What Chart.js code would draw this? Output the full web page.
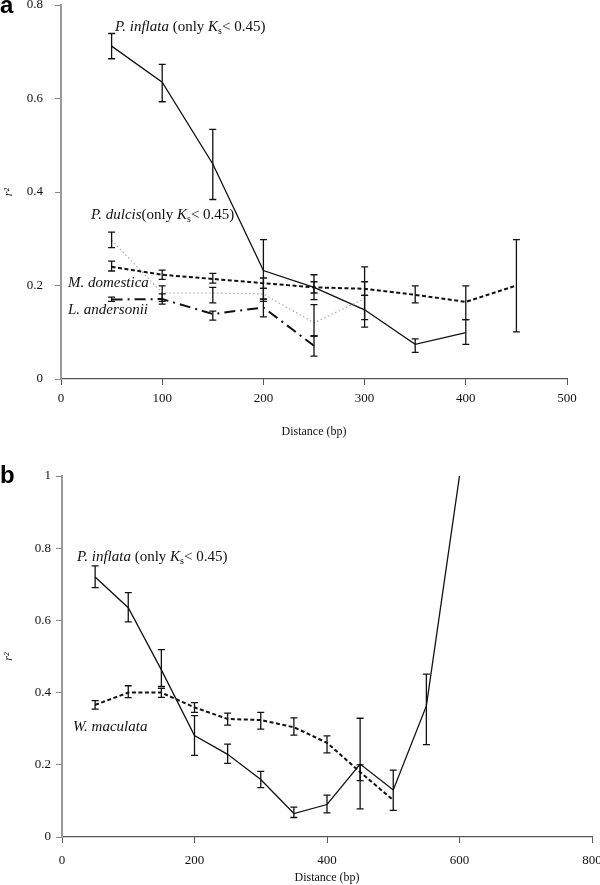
<!DOCTYPE html>
<html>
<head>
<meta charset="utf-8">
<script src="https://cdn.jsdelivr.net/npm/chart.js@4.4.1/dist/chart.umd.min.js"></script>
<style>
  html, body { margin: 0; padding: 0; overflow: hidden; background: #fff; width: 600px; height: 885px; }
  canvas { position: absolute; left: 0; }
  #chartA { top: -20px; }
  #chartB { top: 440px; }
  .note { position: absolute; font-family: "Liberation Serif", serif; font-size: 15px; line-height: 15px; color: #111; white-space: nowrap; }
  .note sub { font-size: 10px; vertical-align: -3px; line-height: 0; }
  .panel { position: absolute; left: 0; font-family: "Liberation Sans", sans-serif; font-weight: bold; font-size: 24px; line-height: 24px; color: #000; }
</style>
</head>
<body>
<canvas id="chartA" width="600" height="465"></canvas>
<canvas id="chartB" width="620" height="445"></canvas>

<div class="panel" style="top:-7px">a</div>
<div class="panel" style="top:463px">b</div>

<div class="note" style="left:115px;top:19px"><i>P. inflata</i> (only <i>K</i><sub>s</sub>&lt; 0.45)</div>
<div class="note" style="left:91px;top:207px"><i>P. dulcis</i>(only <i>K</i><sub>s</sub>&lt; 0.45)</div>
<div class="note" style="left:68px;top:275px"><i>M. domestica</i></div>
<div class="note" style="left:68px;top:302px"><i>L. andersonii</i></div>
<div class="note" style="left:77px;top:549px"><i>P. inflata</i> (only <i>K</i><sub>s</sub>&lt; 0.45)</div>
<div class="note" style="left:73px;top:719px"><i>W. maculata</i></div>

<script>
// panel a
const distA = [50, 100, 150, 200, 250, 300, 350, 400, 450];
const inflataA = [0.712, 0.635, 0.46, 0.232, 0.196, 0.148, 0.074, 0.099];
const inflataALo = [0.685, 0.593, 0.384, 0.166, 0.17, 0.111, 0.057, 0.074];
const inflataAHi = [0.739, 0.673, 0.534, 0.298, 0.223, 0.179, 0.086, 0.127];
const dulcisA = [0.297, 0.184, 0.184, 0.182, 0.12, 0.172];
const dulcisALo = [0.281, 0.166, 0.163, 0.171, 0.092, 0.127];
const dulcisAHi = [0.314, 0.199, 0.196, 0.194, 0.159, 0.24];
const domesticaA = [0.24, 0.223, 0.214, 0.205, 0.196, 0.193, 0.18, 0.165, 0.2];
const domesticaALo = [0.231, 0.213, 0.205, 0.194, 0.184, 0.179, 0.163, 0.127, 0.101];
const domesticaAHi = [0.252, 0.233, 0.226, 0.216, 0.208, 0.208, 0.199, 0.199, 0.298];
const andersoniiA = [0.17, 0.171, 0.139, 0.153, 0.071];
const andersoniiALo = [0.166, 0.16, 0.126, 0.133, 0.049];
const andersoniiAHi = [0.175, 0.182, 0.145, 0.171, 0.092];
const ticksXA = [0, 500, 100];   // min, max, step
const ticksYA = [0, 0.8, 0.2];

// panel b
const distB = [50, 100, 150, 200, 250, 300, 350, 400, 450, 500, 550, 600];
const inflataB = [0.72, 0.635, 0.463, 0.281, 0.229, 0.159, 0.065, 0.09, 0.202, 0.13, 0.363, 1.0];
const inflataBLo = [0.691, 0.596, 0.417, 0.226, 0.204, 0.137, 0.054, 0.067, 0.078, 0.074, 0.256, null];
const inflataBHi = [0.751, 0.677, 0.519, 0.336, 0.257, 0.182, 0.083, 0.116, 0.329, 0.185, 0.451, null];
const maculataB = [0.366, 0.4, 0.4, 0.359, 0.327, 0.324, 0.304, 0.261, 0.18, 0.102];
const maculataBLo = [0.354, 0.386, 0.387, 0.345, 0.31, 0.299, 0.282, 0.233, 0.156, null];
const maculataBHi = [0.378, 0.419, 0.412, 0.372, 0.343, 0.345, 0.33, 0.28, 0.2, null];
const ticksXB = [0, 800, 200];
const ticksYB = [0, 1, 0.2];

const pts = (xs, ys) => ys.map((y, i) => ({x: xs[i], y: y}));

// draws the vertical error bars with caps, using the chart scales
const errorBars = {
  id: 'errorBars',
  afterDatasetsDraw(chart) {
    const ctx = chart.ctx;
    const xs = chart.scales.x, ys = chart.scales.y;
    chart.data.datasets.forEach(ds => {
      if (!ds.errLo) return;
      ctx.save();
      ctx.strokeStyle = '#111';
      ctx.lineWidth = 1.3;
      ds.data.forEach((p, j) => {
        const lo = ds.errLo[j], hi = ds.errHi[j];
        if (lo == null || hi == null) return;
        const x = xs.getPixelForValue(p.x);
        const y1 = ys.getPixelForValue(lo), y2 = ys.getPixelForValue(hi);
        ctx.beginPath();
        ctx.moveTo(x, y1); ctx.lineTo(x, y2);
        ctx.moveTo(x - 3.5, y1); ctx.lineTo(x + 3.5, y1);
        ctx.moveTo(x - 3.5, y2); ctx.lineTo(x + 3.5, y2);
        ctx.stroke();
      });
      ctx.restore();
    });
  }
};

function line(data, lo, hi, color, width, dash) {
  return {
    data: data, errLo: lo, errHi: hi,
    borderColor: color, borderWidth: width, borderDash: dash,
    pointRadius: 0, tension: 0, fill: false
  };
}

function options(o) {
  const serif = {family: '"Liberation Serif", "Times New Roman", serif', size: 13};
  return {
    responsive: false,
    animation: false,
    devicePixelRatio: 1,
    layout: {padding: o.padding},
    plugins: {legend: {display: false}, tooltip: {enabled: false}},
    scales: {
      x: {
        type: 'linear', min: o.tx[0], max: o.tx[1],
        ticks: {stepSize: o.tx[2], color: '#111', font: serif, padding: o.xPad, maxRotation: 0},
        grid: {drawOnChartArea: false, drawTicks: true, tickLength: 6, color: '#555'},
        border: {display: true, color: '#555', width: 1.2},
        title: {display: true, text: 'Distance (bp)', color: '#111',
                font: {family: serif.family, size: 12}, padding: {top: 0, bottom: o.titlePad}},
        afterFit: s => { s.height = o.xHeight; }
      },
      y: {
        min: o.ty[0], max: o.ty[1],
        ticks: {stepSize: o.ty[2], color: '#111', font: serif, padding: o.yPad,
                callback: v => String(Number(v.toFixed(2)))},
        grid: {drawOnChartArea: false, drawTicks: true, tickLength: 6, color: '#888'},
        border: {display: true, color: '#999', width: 2},
        title: {display: true, text: 'r²', color: '#111',
                font: {family: serif.family, size: 12, style: 'italic'}, padding: {top: 2, bottom: 0}},
        afterFit: s => { s.width = o.yWidth; }
      }
    }
  };
}

new Chart(document.getElementById('chartA'), {
  type: 'line',
  data: {
    datasets: [
      line(pts(distA, dulcisA), dulcisALo, dulcisAHi, '#aaa', 1.2, [1.5, 2.5]),
      line(pts(distA, andersoniiA), andersoniiALo, andersoniiAHi, '#111', 2, [11, 5, 2, 5]),
      line(pts(distA, domesticaA), domesticaALo, domesticaAHi, '#111', 2, [4, 2.5]),
      line(pts(distA, inflataA), inflataALo, inflataAHi, '#111', 1.3, [])
    ]
  },
  options: options({padding: {top: 25, right: 33, left: 0, bottom: 0},
    tx: ticksXA, ty: ticksYA, xPad: 6, yPad: 12, xHeight: 66, yWidth: 61, titlePad: 6}),
  plugins: [errorBars]
});

new Chart(document.getElementById('chartB'), {
  type: 'line',
  data: {
    datasets: [
      line(pts(distB, maculataB), maculataBLo, maculataBHi, '#111', 2, [4, 2.5]),
      line(pts(distB, inflataB), inflataBLo, inflataBHi, '#111', 1.3, [])
    ]
  },
  options: options({padding: {top: 36, right: 28, left: 0, bottom: 0},
    tx: ticksXB, ty: ticksYB, xPad: 10, yPad: 5, xHeight: 48, yWidth: 62, titlePad: 0}),
  plugins: [errorBars]
});
</script>
</body>
</html>
